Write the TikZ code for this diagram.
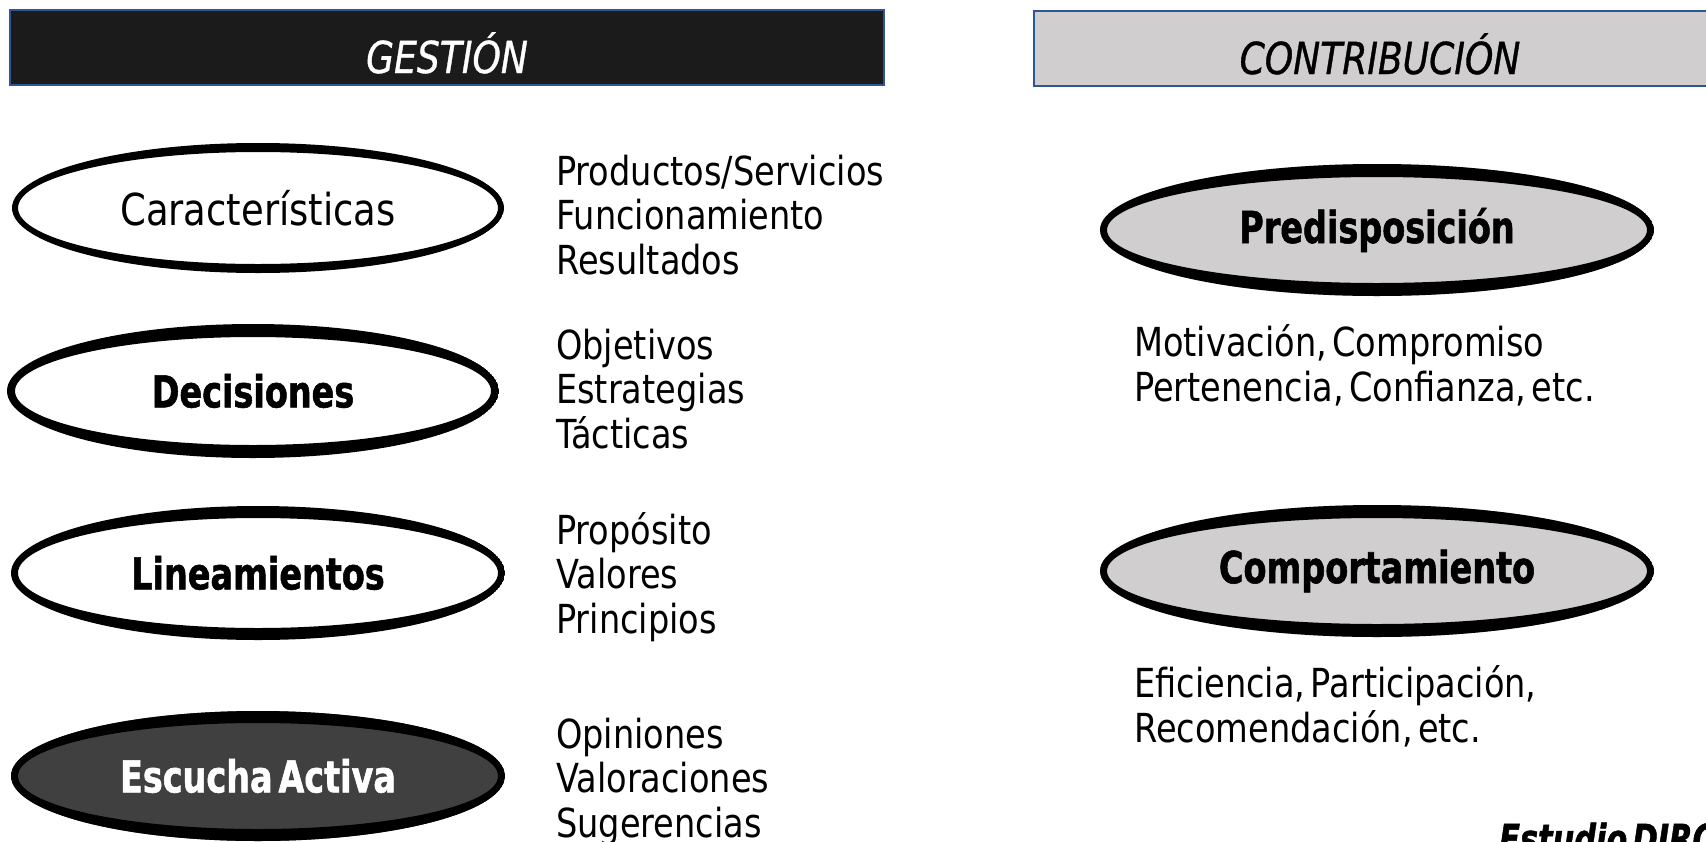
\documentclass[tikz,border=0pt]{standalone}
\usepackage{fontspec}
\setmainfont{DejaVu Sans}[FakeStretch=0.84, WordSpace=0.5]
\newfontfamily\bfam{DejaVu Sans}[FakeStretch=0.76, WordSpace=0.5, FakeBold=1.2]
\newfontfamily\hfam{DejaVu Sans}[FakeStretch=0.82, FakeBold=0.8]
\usetikzlibrary{shapes.geometric}
\definecolor{barblue}{HTML}{2F5597}
\definecolor{bardark}{HTML}{1B1B1B}
\definecolor{lgray}{HTML}{D0CECE}
\definecolor{dgray}{HTML}{404040}
\begin{document}
\begin{tikzpicture}[x=1pt,y=-1pt,
  bar/.style={draw=barblue, line width=2pt, anchor=north west, inner sep=0pt},
  headtxt/.style={font=\hfam\itshape\fontsize{44}{50}\selectfont, anchor=base, inner sep=0pt},
  oval/.style n args={5}{ellipse, inner sep=0pt, minimum width=2*#2, minimum height=2*#3, fill=#1,
    path picture={\fill[black,even odd rule] (path picture bounding box.center) ellipse ({#2} and {#3}) ellipse ({#2-#4} and {#3-#5});}},
  lab/.style={font=\fontsize{44}{50}\selectfont},
  blab/.style={font=\bfam\bfseries\fontsize{44}{50}\selectfont},
  list/.style={font=\fontsize{40}{44.5}\selectfont, align=left, anchor=base west, inner sep=0pt},
]
\useasboundingbox (0,0) rectangle (1706,841);
\fill[white] (0,0) rectangle (1706,841);

% headers
\node[bar, fill=bardark, minimum width=874pt, minimum height=75pt] (gbar) at (9,9) {};
\node[headtxt, text=white] (gtitle) at (447,73) {GESTIÓN};
\node[bar, fill=lgray, minimum width=700pt, minimum height=75pt] (cbar) at (1033,10) {};
\node[headtxt, text=black] (ctitle) at (1380,74) {CONTRIBUCIÓN};

% left ovals
\node[oval={white}{246pt}{65pt}{6pt}{9pt}, lab] (car) at (258,208) {Características};
\node[oval={white}{246pt}{67pt}{8pt}{13pt}, blab] (dec) at (253,391) {Decisiones};
\node[oval={white}{247pt}{67pt}{7pt}{12pt}, blab] (lin) at (258,573) {Lineamientos};
\node[oval={dgray}{247pt}{65pt}{7pt}{12pt}, blab, text=white] (esc) at (258,776) {Escucha Activa};

% left lists (anchor = baseline of last line)
\node[list] (carl) at (556,274) {Productos/Servicios\\Funcionamiento\\Resultados};
\node[list] (decl) at (556,448) {Objetivos\\Estrategias\\Tácticas};
\node[list] (linl) at (556,633) {Propósito\\Valores\\Principios};
\node[list] (escl) at (556,837) {Opiniones\\Valoraciones\\Sugerencias};

% right ovals
\node[oval={lgray}{277pt}{66pt}{7pt}{13pt}, blab] (pre) at (1377,230) {Predisposición};
\node[oval={lgray}{277pt}{66pt}{7pt}{13pt}, blab] (com) at (1377,571) {Comportamiento};

% right lists
\node[list] (prel) at (1134,401) {Motivación, Compromiso\\Pertenencia, Confianza, etc.};
\node[list] (coml) at (1134,742) {Eficiencia, Participación,\\Recomendación, etc.};

\node[font=\bfam\bfseries\itshape\fontsize{40}{44}\selectfont, anchor=base west, inner sep=0pt] (src) at (1499,853) {Estudio DIRC};
\end{tikzpicture}
\end{document}
